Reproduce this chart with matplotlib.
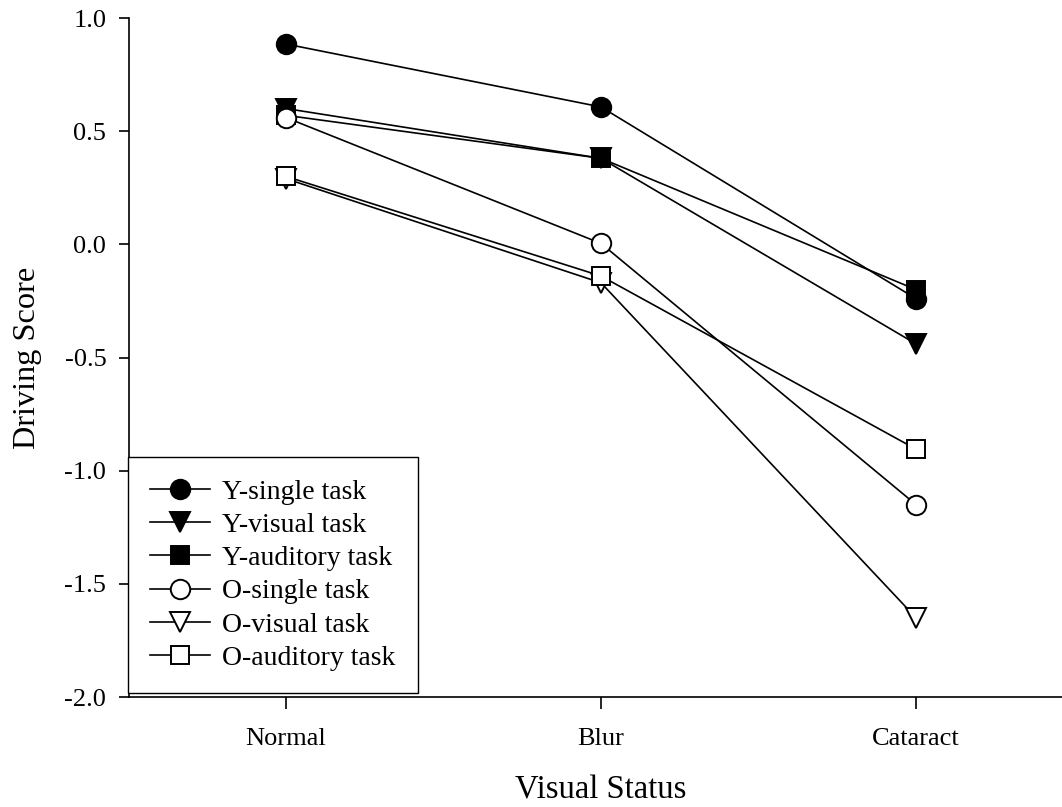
import matplotlib
matplotlib.use('Agg')
import matplotlib.pyplot as plt

plt.rcParams['font.family'] = ['Liberation Serif', 'DejaVu Serif']

categories = ['Normal', 'Blur', 'Cataract']
labels = ['Y-single task', 'Y-visual task', 'Y-auditory task',
          'O-single task', 'O-visual task', 'O-auditory task']
y_single = [0.885, 0.607, -0.24]
y_visual = [0.60, 0.38, -0.44]
y_auditory = [0.57, 0.38, -0.20]
o_single = [0.56, 0.004, -1.15]
o_visual = [0.29, -0.17, -1.65]
o_auditory = [0.30, -0.14, -0.905]

series = [y_single, y_visual, y_auditory, o_single, o_visual, o_auditory]
markers = ['o', 'v', 's', 'o', 'v', 's']
msizes = [14, 14, 12.5, 14, 14, 12.5]
fills = ['black', 'black', 'black', 'white', 'white', 'white']

fig = plt.figure(figsize=(10.62, 8.07), dpi=100)
ax = fig.add_axes([128.5 / 1062, 110 / 807, 945 / 1062, 679 / 807])

x = range(1, len(categories) + 1)
for vals, m, ms, fc, lab in zip(series, markers, msizes, fills, labels):
    ax.plot(x, vals, color='black', lw=1.2, marker=m, markersize=ms,
            markerfacecolor=fc, markeredgecolor='black', markeredgewidth=1.4,
            label=lab)

ax.set_xlim(0.5, 3.5)
ax.set_ylim(-2.0, 1.0)
ax.set_xticks(list(x))
ax.set_xticklabels(categories)
ax.set_yticks([-2.0, -1.5, -1.0, -0.5, 0.0, 0.5, 1.0])
ax.set_yticklabels(['-2.0', '-1.5', '-1.0', '-0.5', '0.0', '0.5', '1.0'])
ax.tick_params(labelsize=19, width=1.2, direction='out')
ax.tick_params(axis='y', length=7.5, pad=8.5)
ax.tick_params(axis='x', length=8.5, pad=13.5)
ax.spines['top'].set_visible(False)
ax.spines['right'].set_visible(False)
ax.spines['left'].set_linewidth(1.2)
ax.spines['bottom'].set_linewidth(1.2)

ax.set_xlabel('Visual Status', fontsize=23.5)
ax.xaxis.label.set_va('baseline')
ax.xaxis.set_label_coords(0.5, -0.150)
ax.set_ylabel('Driving Score', fontsize=23.3, labelpad=16)

leg = ax.legend(loc='lower left', bbox_to_anchor=(128 / 1062, 114 / 807),
                bbox_transform=fig.transFigure, borderaxespad=0,
                fontsize=20, handlelength=2.16, handletextpad=0.43,
                labelspacing=0.28, fancybox=False, framealpha=1,
                edgecolor='black', borderpad=0.8)
leg.get_frame().set_linewidth(1.0)

fig.savefig('out.png', dpi=100)
